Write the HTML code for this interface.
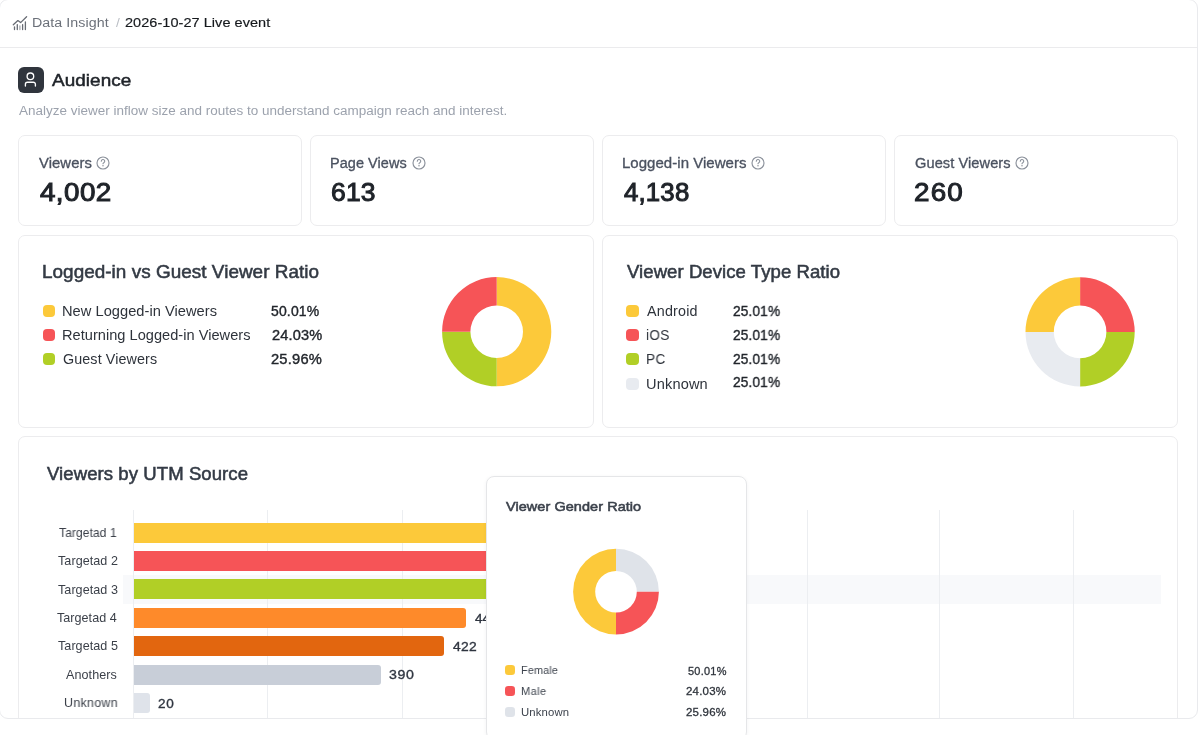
<!DOCTYPE html>
<html><head><meta charset="utf-8">
<style>
*{box-sizing:border-box;margin:0;padding:0}
html,body{width:1200px;height:735px;overflow:hidden;background:#fff;font-family:"Liberation Sans",sans-serif;}
.frame{position:absolute;left:-1px;top:-1px;width:1199px;height:720px;border:1px solid #e9eaed;border-radius:9px;overflow:hidden;background:#fff}
.a{position:absolute;white-space:nowrap}
.tx{will-change:transform}
.card{position:absolute;border:1px solid #ececee;border-radius:7px;background:#fff}
.pop{position:absolute;left:486px;top:476px;width:261px;height:264px;border:1px solid #e5e6e8;border-radius:8px;background:#fff;box-shadow:0 1px 4px rgba(20,30,50,.05)}
</style></head><body>
<div class="frame">
  <div class="a" style="left:0;top:47px;width:1200px;height:1px;background:#ebebed"></div>
  <svg class="a" style="left:12px;top:15px" width="17" height="17" viewBox="0 0 17 17" fill="none" stroke="#686c74" stroke-width="1.3" stroke-linecap="round" stroke-linejoin="round">
    <path d="M1.3 9.8 L5.9 5.6 L8.6 7.6 L14.6 1.8"/>
    <path d="M2.5 11.8V14.6 M5.3 9.6V14.6 M10.6 9.6V14.6 M13.4 7V14.6"/>
    <path d="M7.9 11V14.6" stroke="#a4a8ae"/>
  </svg>
  <div class="a" style="left:18.2px;top:67.2px;width:25.4px;height:25.4px;border-radius:6px;background:#30353d"></div>
  <svg class="a" style="left:18.3px;top:67.3px" width="25" height="25" viewBox="0 0 25 25" fill="none" stroke="#fff" stroke-width="1.35" stroke-linecap="round">
    <circle cx="12.4" cy="9.3" r="3.3"/>
    <path d="M7.4 19.1V17.3a2.1 2.1 0 0 1 2.1-2.1h5.8a2.1 2.1 0 0 1 2.1 2.1v1.8"/>
  </svg>
  <div class="card" style="left:18px;top:135px;width:284px;height:91px"></div>
  <div class="card" style="left:310px;top:135px;width:284px;height:91px"></div>
  <div class="card" style="left:602px;top:135px;width:284px;height:91px"></div>
  <div class="card" style="left:894px;top:135px;width:284px;height:91px"></div>
  <svg class="a" style="left:96.3px;top:155.9px" width="14" height="14" viewBox="0 0 14 14" fill="none" stroke="#8b919b" stroke-width="1.15"><circle cx="7" cy="7" r="6"/><path d="M5.3 5.2a1.72 1.72 0 1 1 2.5 1.5c-.5.25-.8.55-.8 1.05" stroke-linecap="round" stroke-width="1.1"/><circle cx="7" cy="9.8" r=".7" fill="#80868f" stroke="none"/></svg><svg class="a" style="left:411.5px;top:155.9px" width="14" height="14" viewBox="0 0 14 14" fill="none" stroke="#8b919b" stroke-width="1.15"><circle cx="7" cy="7" r="6"/><path d="M5.3 5.2a1.72 1.72 0 1 1 2.5 1.5c-.5.25-.8.55-.8 1.05" stroke-linecap="round" stroke-width="1.1"/><circle cx="7" cy="9.8" r=".7" fill="#80868f" stroke="none"/></svg><svg class="a" style="left:751px;top:155.9px" width="14" height="14" viewBox="0 0 14 14" fill="none" stroke="#8b919b" stroke-width="1.15"><circle cx="7" cy="7" r="6"/><path d="M5.3 5.2a1.72 1.72 0 1 1 2.5 1.5c-.5.25-.8.55-.8 1.05" stroke-linecap="round" stroke-width="1.1"/><circle cx="7" cy="9.8" r=".7" fill="#80868f" stroke="none"/></svg><svg class="a" style="left:1014.7px;top:155.9px" width="14" height="14" viewBox="0 0 14 14" fill="none" stroke="#8b919b" stroke-width="1.15"><circle cx="7" cy="7" r="6"/><path d="M5.3 5.2a1.72 1.72 0 1 1 2.5 1.5c-.5.25-.8.55-.8 1.05" stroke-linecap="round" stroke-width="1.1"/><circle cx="7" cy="9.8" r=".7" fill="#80868f" stroke="none"/></svg>
  <div class="card" style="left:18px;top:235px;width:576px;height:193px"></div>
  <div class="card" style="left:602px;top:235px;width:576px;height:193px"></div>
  <div class="a" style="left:42.6px;top:304.5px;width:12.2px;height:12.2px;border-radius:4px;background:#fcc93a"></div><div class="a" style="left:42.6px;top:328.8px;width:12.2px;height:12.2px;border-radius:4px;background:#f65457"></div><div class="a" style="left:42.6px;top:353.2px;width:12.2px;height:12.2px;border-radius:4px;background:#b1cf26"></div><div class="a" style="left:626.4px;top:304.5px;width:12.2px;height:12.2px;border-radius:4px;background:#fcc93a"></div><div class="a" style="left:626.4px;top:328.8px;width:12.2px;height:12.2px;border-radius:4px;background:#f65457"></div><div class="a" style="left:626.4px;top:353.2px;width:12.2px;height:12.2px;border-radius:4px;background:#b1cf26"></div><div class="a" style="left:626.4px;top:377.5px;width:12.2px;height:12.2px;border-radius:4px;background:#e8ebf0"></div>
  <svg class="a" style="left:0;top:0" width="1200" height="735"><path d="M496.70 277.10A54.6 54.6 0 0 1 496.70 386.30L496.70 358.00A26.3 26.3 0 0 0 496.70 305.40Z" fill="#fcc93a"/><path d="M496.70 386.30A54.6 54.6 0 0 1 442.10 331.70L470.40 331.70A26.3 26.3 0 0 0 496.70 358.00Z" fill="#b1cf26"/><path d="M442.10 331.70A54.6 54.6 0 0 1 496.70 277.10L496.70 305.40A26.3 26.3 0 0 0 470.40 331.70Z" fill="#f65457"/><path d="M1080.10 277.30A54.6 54.6 0 0 1 1134.70 331.90L1106.40 331.90A26.3 26.3 0 0 0 1080.10 305.60Z" fill="#f65457"/><path d="M1134.70 331.90A54.6 54.6 0 0 1 1080.10 386.50L1080.10 358.20A26.3 26.3 0 0 0 1106.40 331.90Z" fill="#b1cf26"/><path d="M1080.10 386.50A54.6 54.6 0 0 1 1025.50 331.90L1053.80 331.90A26.3 26.3 0 0 0 1080.10 358.20Z" fill="#e8ebf0"/><path d="M1025.50 331.90A54.6 54.6 0 0 1 1080.10 277.30L1080.10 305.60A26.3 26.3 0 0 0 1053.80 331.90Z" fill="#fcc93a"/></svg>
  <div class="card" style="left:18px;top:436px;width:1160px;height:320px"></div>
  <div class="a" style="left:123px;top:575px;width:1038px;height:28.5px;background:#f8f9fb"></div>
  <div class="a" style="left:133px;top:510px;width:1px;height:220px;background:#eceef1"></div><div class="a" style="left:267px;top:510px;width:1px;height:220px;background:#eceef1"></div><div class="a" style="left:402px;top:510px;width:1px;height:220px;background:#eceef1"></div><div class="a" style="left:536px;top:510px;width:1px;height:220px;background:#eceef1"></div><div class="a" style="left:671px;top:510px;width:1px;height:220px;background:#eceef1"></div><div class="a" style="left:807px;top:510px;width:1px;height:220px;background:#eceef1"></div><div class="a" style="left:939px;top:510px;width:1px;height:220px;background:#eceef1"></div><div class="a" style="left:1073px;top:510px;width:1px;height:220px;background:#eceef1"></div>
  <div class="a" style="left:134px;top:522.5px;width:506.0px;height:20px;border-radius:0 3px 3px 0;background:#fcc93a"></div><div class="a" style="left:134px;top:550.9px;width:506.0px;height:20px;border-radius:0 3px 3px 0;background:#f65457"></div><div class="a" style="left:134px;top:579.3px;width:506.0px;height:20px;border-radius:0 3px 3px 0;background:#b1cf26"></div><div class="a" style="left:134px;top:607.7px;width:331.8px;height:20px;border-radius:0 3px 3px 0;background:#fe8a2a"></div><div class="a" style="left:134px;top:636.1px;width:309.8px;height:20px;border-radius:0 3px 3px 0;background:#e2660f"></div><div class="a" style="left:134px;top:664.5px;width:246.8px;height:20px;border-radius:0 3px 3px 0;background:#c8ced8"></div><div class="a" style="left:134px;top:692.9px;width:15.8px;height:20px;border-radius:0 3px 3px 0;background:#dfe3ea"></div>
<div class="a tx" style="left:31.87px;top:15.71px;font-size:13.66px;line-height:13.66px;letter-spacing:0.049px;color:#6b7079;transform:scaleX(1.0433);transform-origin:0 0;">Data Insight</div>
<div class="a tx" style="left:115.56px;top:15.71px;font-size:13.66px;line-height:13.66px;letter-spacing:0px;color:#babec4;">/</div>
<div class="a tx" style="left:125.45px;top:15.7px;font-size:13.43px;line-height:13.43px;letter-spacing:0.047px;color:#16191d;-webkit-text-stroke:0.16px #16191d;transform:scaleX(1.0799);transform-origin:0 0;">2026-10-27 Live event</div>
<div class="a tx" style="left:52.45px;top:72.11px;font-size:17.2px;line-height:17.2px;letter-spacing:0.056px;color:#1f2329;-webkit-text-stroke:0.52px #1f2329;transform:scaleX(1.0995);transform-origin:0 0;">Audience</div>
<div class="a tx" style="left:18.76px;top:103.51px;font-size:13.08px;line-height:13.08px;letter-spacing:0.008px;color:#9ca2ad;transform:scaleX(1.0304);transform-origin:0 0;">Analyze viewer inflow size and routes to understand campaign reach and interest.</div>
<div class="a tx" style="left:39.01px;top:155.81px;font-size:14.44px;line-height:14.44px;letter-spacing:0.075px;color:#4b5260;-webkit-text-stroke:0.32px #4b5260;transform:scaleX(1.0258);transform-origin:0 0;">Viewers</div>
<div class="a tx" style="left:330.04px;top:155.81px;font-size:14.44px;line-height:14.44px;letter-spacing:0.063px;color:#4b5260;-webkit-text-stroke:0.32px #4b5260;transform:scaleX(1.0016);transform-origin:0 0;">Page Views</div>
<div class="a tx" style="left:621.92px;top:155.81px;font-size:14.44px;line-height:14.44px;letter-spacing:0.031px;color:#4b5260;-webkit-text-stroke:0.32px #4b5260;transform:scaleX(1.0388);transform-origin:0 0;">Logged-in Viewers</div>
<div class="a tx" style="left:914.51px;top:155.81px;font-size:14.44px;line-height:14.44px;letter-spacing:0.074px;color:#4b5260;-webkit-text-stroke:0.32px #4b5260;transform:scaleX(1.0116);transform-origin:0 0;">Guest Viewers</div>
<div class="a tx" style="left:39.52px;top:180.01px;font-size:25.28px;line-height:25.28px;letter-spacing:0.378px;color:#1f2329;-webkit-text-stroke:1.01px #1f2329;transform:scaleX(1.1);transform-origin:0 0;">4,002</div>
<div class="a tx" style="left:330.77px;top:180.01px;font-size:25.28px;line-height:25.28px;letter-spacing:0.194px;color:#1f2329;-webkit-text-stroke:1.01px #1f2329;transform:scaleX(1.047);transform-origin:0 0;">613</div>
<div class="a tx" style="left:623.55px;top:180.01px;font-size:25.28px;line-height:25.28px;letter-spacing:0.164px;color:#1f2329;-webkit-text-stroke:1.01px #1f2329;transform:scaleX(1.0211);transform-origin:0 0;">4,138</div>
<div class="a tx" style="left:913.82px;top:180.01px;font-size:25.28px;line-height:25.28px;letter-spacing:1.073px;color:#1f2329;-webkit-text-stroke:1.01px #1f2329;transform:scaleX(1.1);transform-origin:0 0;">260</div>
<div class="a tx" style="left:41.95px;top:264.26px;font-size:17.76px;line-height:17.76px;letter-spacing:0.036px;color:#333a44;-webkit-text-stroke:0.53px #333a44;transform:scaleX(1.0646);transform-origin:0 0;">Logged-in vs Guest Viewer Ratio</div>
<div class="a tx" style="left:627.46px;top:264.11px;font-size:17.76px;line-height:17.76px;letter-spacing:0.054px;color:#333a44;-webkit-text-stroke:0.53px #333a44;transform:scaleX(1.045);transform-origin:0 0;">Viewer Device Type Ratio</div>
<div class="a tx" style="left:62.46px;top:303.75px;font-size:14.32px;line-height:14.32px;letter-spacing:0.024px;color:#2e333b;transform:scaleX(1.0238);transform-origin:0 0;">New Logged-in Viewers</div>
<div class="a tx" style="left:62.49px;top:327.91px;font-size:14.32px;line-height:14.32px;letter-spacing:0.02px;color:#2e333b;transform:scaleX(1.0198);transform-origin:0 0;">Returning Logged-in Viewers</div>
<div class="a tx" style="left:62.57px;top:352.11px;font-size:14.32px;line-height:14.32px;letter-spacing:0.105px;color:#2e333b;transform:scaleX(0.9989);transform-origin:0 0;">Guest Viewers</div>
<div class="a tx" style="left:271.17px;top:304.75px;font-size:13.78px;line-height:13.78px;letter-spacing:0.165px;color:#22262c;-webkit-text-stroke:0.37px #22262c;transform:scaleX(1.0146);transform-origin:0 0;">50.01%</div>
<div class="a tx" style="left:272.25px;top:328.91px;font-size:13.78px;line-height:13.78px;letter-spacing:0.145px;color:#22262c;-webkit-text-stroke:0.37px #22262c;transform:scaleX(1.0577);transform-origin:0 0;">24.03%</div>
<div class="a tx" style="left:271.35px;top:353.11px;font-size:13.78px;line-height:13.78px;letter-spacing:0.176px;color:#22262c;-webkit-text-stroke:0.37px #22262c;transform:scaleX(1.0685);transform-origin:0 0;">25.96%</div>
<div class="a tx" style="left:647.2px;top:303.91px;font-size:14.32px;line-height:14.32px;letter-spacing:0.198px;color:#2e333b;transform:scaleX(0.9985);transform-origin:0 0;">Android</div>
<div class="a tx" style="left:645.52px;top:327.81px;font-size:14.32px;line-height:14.32px;letter-spacing:0.297px;color:#2e333b;transform:scaleX(0.95);transform-origin:0 0;">iOS</div>
<div class="a tx" style="left:646.37px;top:352.41px;font-size:14.32px;line-height:14.32px;letter-spacing:0.457px;color:#2e333b;transform:scaleX(0.95);transform-origin:0 0;">PC</div>
<div class="a tx" style="left:646.36px;top:376.7px;font-size:14.32px;line-height:14.32px;letter-spacing:0.155px;color:#2e333b;transform:scaleX(1.0186);transform-origin:0 0;">Unknown</div>
<div class="a tx" style="left:733.31px;top:304.91px;font-size:13.78px;line-height:13.78px;letter-spacing:0.142px;color:#22262c;-webkit-text-stroke:0.37px #22262c;transform:scaleX(0.9931);transform-origin:0 0;">25.01%</div>
<div class="a tx" style="left:733.31px;top:328.81px;font-size:13.78px;line-height:13.78px;letter-spacing:0.142px;color:#22262c;-webkit-text-stroke:0.37px #22262c;transform:scaleX(0.9931);transform-origin:0 0;">25.01%</div>
<div class="a tx" style="left:733.31px;top:353.41px;font-size:13.78px;line-height:13.78px;letter-spacing:0.142px;color:#22262c;-webkit-text-stroke:0.37px #22262c;transform:scaleX(0.9931);transform-origin:0 0;">25.01%</div>
<div class="a tx" style="left:733.31px;top:375.81px;font-size:13.78px;line-height:13.78px;letter-spacing:0.142px;color:#22262c;-webkit-text-stroke:0.37px #22262c;transform:scaleX(0.9931);transform-origin:0 0;">25.01%</div>
<div class="a tx" style="left:47.24px;top:465.76px;font-size:17.97px;line-height:17.97px;letter-spacing:0.066px;color:#333a45;-webkit-text-stroke:0.54px #333a45;transform:scaleX(1.0332);transform-origin:0 0;">Viewers by UTM Source</div>
<div class="a tx" style="left:58.76px;top:526.66px;font-size:12.57px;line-height:12.57px;letter-spacing:0.098px;color:#3a3f48;transform:scaleX(0.9573);transform-origin:0 0;">Targetad 1</div>
<div class="a tx" style="left:57.57px;top:555.11px;font-size:12.57px;line-height:12.57px;letter-spacing:0.059px;color:#3a3f48;transform:scaleX(0.9936);transform-origin:0 0;">Targetad 2</div>
<div class="a tx" style="left:57.57px;top:583.5px;font-size:12.57px;line-height:12.57px;letter-spacing:0.056px;color:#3a3f48;transform:scaleX(0.9936);transform-origin:0 0;">Targetad 3</div>
<div class="a tx" style="left:57.23px;top:611.91px;font-size:12.57px;line-height:12.57px;letter-spacing:0.036px;color:#3a3f48;transform:scaleX(0.9953);transform-origin:0 0;">Targetad 4</div>
<div class="a tx" style="left:57.57px;top:640.3px;font-size:12.57px;line-height:12.57px;letter-spacing:0.057px;color:#3a3f48;transform:scaleX(0.9936);transform-origin:0 0;">Targetad 5</div>
<div class="a tx" style="left:66.35px;top:668.71px;font-size:12.57px;line-height:12.57px;letter-spacing:0.065px;color:#3a3f48;transform:scaleX(1.002);transform-origin:0 0;">Anothers</div>
<div class="a tx" style="left:64.01px;top:697.11px;font-size:12.57px;line-height:12.57px;letter-spacing:0.343px;color:#3a3f48;transform:scaleX(0.985);transform-origin:0 0;">Unknown</div>
<div class="a tx" style="left:474.97px;top:613.4px;font-size:12.87px;line-height:12.87px;letter-spacing:-0.0px;color:#2f3540;-webkit-text-stroke:0.35px #2f3540;transform:scaleX(1.0495);transform-origin:0 0;">44</div>
<div class="a tx" style="left:452.57px;top:641.01px;font-size:12.87px;line-height:12.87px;letter-spacing:0.282px;color:#2f3540;-webkit-text-stroke:0.35px #2f3540;transform:scaleX(1.0774);transform-origin:0 0;">422</div>
<div class="a tx" style="left:389.22px;top:669.4px;font-size:12.87px;line-height:12.87px;letter-spacing:0.598px;color:#2f3540;-webkit-text-stroke:0.35px #2f3540;transform:scaleX(1.1);transform-origin:0 0;">390</div>
<div class="a tx" style="left:158.28px;top:698.01px;font-size:12.87px;line-height:12.87px;letter-spacing:0.75px;color:#2f3540;-webkit-text-stroke:0.35px #2f3540;transform:scaleX(1.053);transform-origin:0 0;">20</div>
</div>
<div class="pop"></div>
<svg class="a" style="left:0;top:0" width="1200" height="735"><path d="M616.00 548.80A42.9 42.9 0 0 1 658.90 591.70L636.80 591.70A20.8 20.8 0 0 0 616.00 570.90Z" fill="#dfe3e9"/><path d="M658.90 591.70A42.9 42.9 0 0 1 616.00 634.60L616.00 612.50A20.8 20.8 0 0 0 636.80 591.70Z" fill="#f65457"/><path d="M616.00 634.60A42.9 42.9 0 0 1 616.00 548.80L616.00 570.90A20.8 20.8 0 0 0 616.00 612.50Z" fill="#fcc93a"/></svg>
<div class="a" style="left:505px;top:665.3px;width:10px;height:10px;border-radius:3.3px;background:#fcc93a"></div><div class="a" style="left:505px;top:686.1px;width:10px;height:10px;border-radius:3.3px;background:#f65457"></div><div class="a" style="left:505px;top:706.9px;width:10px;height:10px;border-radius:3.3px;background:#dfe3e9"></div>
<div class="a tx" style="left:506.32px;top:500.31px;font-size:13.7px;line-height:13.7px;letter-spacing:0.06px;color:#3c424c;-webkit-text-stroke:0.58px #3c424c;transform:scaleX(1.0569);transform-origin:0 0;">Viewer Gender Ratio</div>
<div class="a tx" style="left:520.76px;top:665.31px;font-size:11.34px;line-height:11.34px;letter-spacing:0.216px;color:#3c424c;transform:scaleX(0.95);transform-origin:0 0;">Female</div>
<div class="a tx" style="left:520.76px;top:686.1px;font-size:11.34px;line-height:11.34px;letter-spacing:0.462px;color:#3c424c;transform:scaleX(0.9648);transform-origin:0 0;">Male</div>
<div class="a tx" style="left:520.82px;top:706.9px;font-size:11.34px;line-height:11.34px;letter-spacing:0.153px;color:#3c424c;transform:scaleX(0.993);transform-origin:0 0;">Unknown</div>
<div class="a tx" style="left:687.95px;top:665.51px;font-size:10.91px;line-height:10.91px;letter-spacing:0.239px;color:#2f343c;-webkit-text-stroke:0.29px #2f343c;transform:scaleX(1.0057);transform-origin:0 0;">50.01%</div>
<div class="a tx" style="left:686.24px;top:686.1px;font-size:10.91px;line-height:10.91px;letter-spacing:0.209px;color:#2f343c;-webkit-text-stroke:0.29px #2f343c;transform:scaleX(1.0513);transform-origin:0 0;">24.03%</div>
<div class="a tx" style="left:686.26px;top:706.9px;font-size:10.91px;line-height:10.91px;letter-spacing:0.198px;color:#2f343c;-webkit-text-stroke:0.29px #2f343c;transform:scaleX(1.0513);transform-origin:0 0;">25.96%</div>
</body></html>
